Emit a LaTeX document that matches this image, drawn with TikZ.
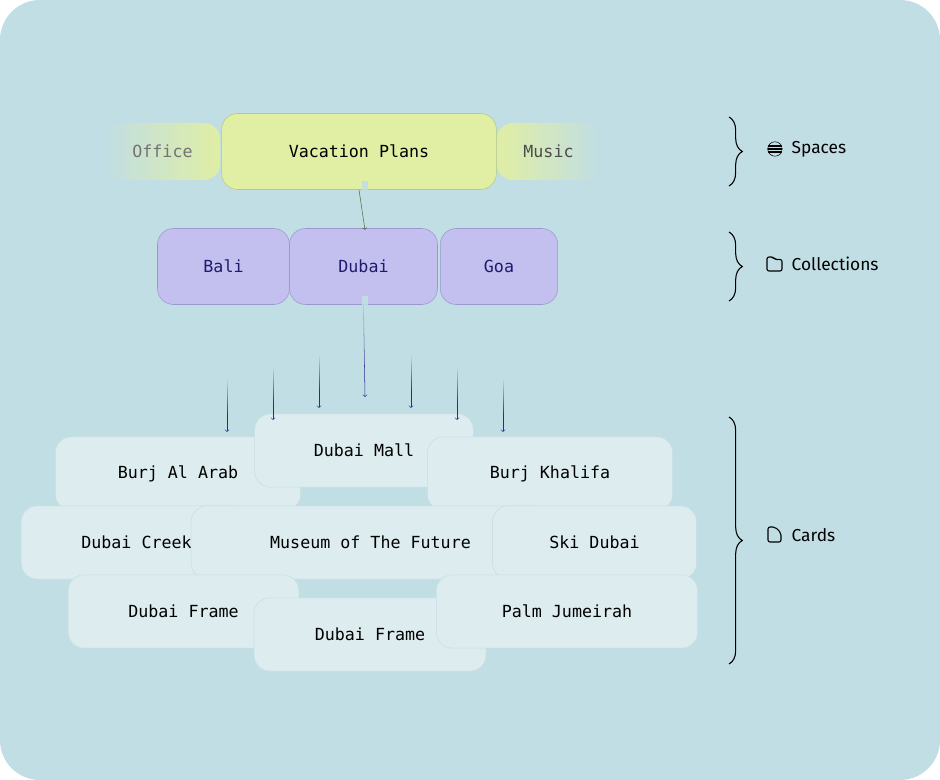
\documentclass[tikz,border=0pt]{standalone}
\usepackage{fontspec}
\setmainfont{Fira Sans}
\newfontfamily\monofont{DejaVu Sans Mono}
\usetikzlibrary{positioning,fadings,decorations.pathreplacing}
\definecolor{bgblue}{HTML}{C1DEE4}
\definecolor{spacegreen}{HTML}{E0EFA4}
\definecolor{spaceedge}{HTML}{B9C97A}
\definecolor{collviolet}{HTML}{C3C0EF}
\definecolor{colledge}{HTML}{9A97CF}
\definecolor{collink}{HTML}{1E1A6E}
\definecolor{cardfill}{HTML}{DCECEF}
\definecolor{cardedge}{HTML}{C9DFE3}
\definecolor{arrowblue}{HTML}{2A2A90}
\definecolor{arrowolive}{HTML}{5F6638}
\tikzset{
  box/.style={rectangle,rounded corners=12,inner sep=0,minimum height=57,
    font=\monofont\fontsize{12.5}{14}\selectfont},
  space/.style={box,fill=spacegreen,draw=spaceedge},
  coll/.style={box,fill=collviolet,draw=colledge,text=collink},
  card/.style={box,fill=cardfill,draw=cardedge,minimum height=55},
  flow/.style={->,>=To,thin},
  veil/.style={fill=bgblue,path fading=south},
  brace/.style={decorate,decoration={brace,amplitude=10},thick},
  layer/.style={font=\fontsize{13}{15}\selectfont,anchor=west},
}
\begin{document}
\begin{tikzpicture}[x=0.75pt,y=-0.75pt]
    \useasboundingbox (0,0) rectangle (940,780);
    \fill[white] (0,0) rectangle (940,780);
    \fill[bgblue,rounded corners=30] (0,0) rectangle (940,780);

    % spaces
    \node[space,minimum width=206] (vacation) at (359,151.5) {Vacation Plans};
    \fill[spacegreen,path fading=west,rounded corners=12] (105,123) rectangle (220,180);
    \node[box,minimum width=115,text=black!55] (office) at (162.5,151.5) {Office};
    \fill[spacegreen,path fading=east,rounded corners=12] (497,123) rectangle (600,180);
    \node[box,minimum width=103,text=black!70] (music) at (548.5,151.5) {Music};

    % collections
    \node[coll,minimum width=99] (bali) at (223.5,266.5) {Bali};
    \node[coll,minimum width=111] (dubai) at (363.5,266.5) {Dubai};
    \node[coll,minimum width=88] (goa) at (499,266.5) {Goa};

    % cards
    \node[card,minimum width=184] (burjarab) at (178,473.5) {Burj Al Arab};
    \node[card,minimum width=164] (mall) at (364,450.5) {Dubai Mall};
    \node[card,minimum width=184] (khalifa) at (550,473.5) {Burj Khalifa};
    \node[card,minimum width=173] (creek) at (136.5,542.5) {Dubai Creek};
    \node[card,minimum width=269] (museum) at (370.5,542.5) {Museum of The Future};
    \node[card,minimum width=153] (ski) at (594.5,542.5) {Ski Dubai};
    \node[card,minimum width=173] (frame) at (183.5,611.5) {Dubai Frame};
    \node[card,minimum width=174] (frametwo) at (370,634.5) {Dubai Frame};
    \node[card,minimum width=196] (palm) at (567,611.5) {Palm Jumeirah};

    % arrows
    \coordinate (c1) at (365,230);
    \draw[flow,arrowolive] (vacation.south) -- (c1);
    \fill[veil] (362,181) rectangle (368,215);
    \coordinate (d4) at (365,397);
    \draw[flow,arrowblue] (dubai.south) -- (d4);
    \fill[veil] (362,296) rectangle (368,370);
    \foreach \name/\x/\ys/\ye in {a1/227/380/432,a2/273/368/420,a3/319/356/408,
                                 a5/411/356/408,a6/457/368/420,a7/503/380/432}{
      \coordinate (\name s) at (\x,\ys);
      \coordinate (\name e) at (\x,\ye);
      \draw[flow,arrowblue] (\name s) -- (\name e);
      \fill[veil] (\x-3,\ys-1) rectangle (\x+3,\ys+35);
    }

    % braces
    \draw[brace] (729,117) -- (729,186);
    \draw[brace] (729,232) -- (729,301);
    \draw[brace] (729,417) -- (729,664);

    % globe icon
    \begin{scope}[shift={(775,149)}]
      \clip (0,0) circle (7.5);
      \draw[thick] (0,0) circle (7.5);
      \foreach \yy in {-3,0,3} \draw[thick] (-8,\yy) -- (8,\yy);
    \end{scope}
    \node[layer] (spaces) at (787,149) {Spaces};

    % folder icon
    \draw[thick,rounded corners=1.5] (767,271) -- (767,257) -- (773,257) -- (775,259.5)
      -- (782,259.5) -- (782,271) -- cycle;
    \node[layer] (collections) at (787,264) {Collections};

    % card icon
    \draw[thick,rounded corners=1.5] (768,527) -- (775,527) -- (781,533) -- (781,542)
      -- (768,542) -- cycle;
    \node[layer] (cards) at (787,535) {Cards};
\end{tikzpicture}
\end{document}
